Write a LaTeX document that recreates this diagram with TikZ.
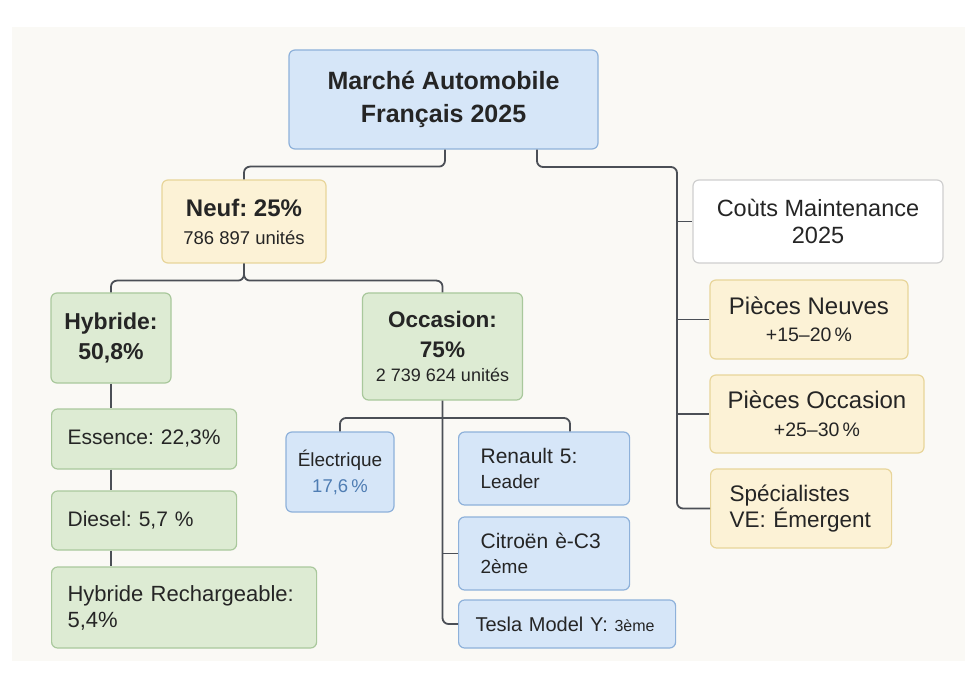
\documentclass[tikz,border=0pt]{standalone}
\usepackage{fontspec}
\setmainfont{Liberation Sans}
\frenchspacing
\usetikzlibrary{positioning}
\definecolor{panelbg}{HTML}{FAF9F5}
\definecolor{blueFill}{HTML}{D6E6F8}
\definecolor{blueLine}{HTML}{8EB1DA}
\definecolor{yellowFill}{HTML}{FCF2D6}
\definecolor{yellowLine}{HTML}{E8D59A}
\definecolor{greenFill}{HTML}{DDEBD3}
\definecolor{greenLine}{HTML}{A9C89C}
\definecolor{greyLine}{HTML}{CFCFCF}
\definecolor{lineGray}{HTML}{4B4F56}
\definecolor{textdark}{HTML}{252525}
\definecolor{elecBlue}{HTML}{4F7DB3}
\newcommand\fsz[2]{\fontsize{#1}{#2}\selectfont}

\tikzset{
  box/.style={draw, rounded corners=6pt, line width=1.2pt, text=textdark, inner sep=0pt},
  bluebox/.style={box, fill=blueFill, draw=blueLine},
  yellowbox/.style={box, fill=yellowFill, draw=yellowLine},
  greenbox/.style={box, fill=greenFill, draw=greenLine},
  whitebox/.style={box, fill=white, draw=greyLine},
  leftbox/.style={align=left, anchor=west, inner xsep=#1},
  conn/.style={draw=lineGray, line width=1.8pt, rounded corners=6pt},
}

\begin{document}
\begin{tikzpicture}[x=1pt, y=-1pt]
  % Page and panel
  \useasboundingbox (0,0) rectangle (975,687);
  \fill[white] (0,0) rectangle (975,687);
  \fill[panelbg] (12,27) rectangle (965,661);

  % Root
  \node[bluebox, minimum width=309pt, minimum height=99pt, align=center,
        font=\bfseries\fsz{25}{33}] (title) at (443.5,99.5)
      {Marché Automobile\\Français 2025};

  % Neuf / Occasion branch
  \node[yellowbox, minimum width=164pt, minimum height=83pt, align=center,
        font=\fsz{24}{28}] (neuf) at (244,221.5)
      {\textbf{Neuf: 25\%}\\{\fsz{18.5}{22}786 897 unités}};

  \node[greenbox, minimum width=120pt, minimum height=90pt, align=center,
        font=\bfseries\fsz{23}{30}] (hyb) at (111,338)
      {Hybride:\\50,8\%};

  \node[greenbox, minimum width=160pt, minimum height=107pt, align=center,
        font=\fsz{22.5}{30}] (occ) at (442.5,346.5)
      {\textbf{Occasion:}\\\textbf{75\%}\\[-5.5pt]{\fsz{18}{22}2 739 624 unités}};

  % Hybride details
  \node[greenbox, leftbox=16pt, text width=153pt, minimum height=60pt,
        font=\fsz{21}{26}] (ess) at (51,439)
      {Essence: 22,3\%};
  \node[greenbox, leftbox=16pt, text width=153pt, minimum height=59pt,
        font=\fsz{21}{26}] (dies) at (51,520.5)
      {Diesel: 5,7 \%};
  \node[greenbox, leftbox=16pt, text width=233pt, minimum height=81pt,
        font=\fsz{22}{26}] (hr) at (51,607.5)
      {Hybride Rechargeable:\\5,4\%};

  % Occasion details
  \node[bluebox, minimum width=108pt, minimum height=80pt, align=center,
        font=\fsz{19}{26}] (elec) at (340,472)
      {Électrique\\{\fsz{18.5}{22}\color{elecBlue}17,6\,\%}};
  \node[bluebox, leftbox=22pt, text width=127pt, minimum height=73pt,
        font=\fsz{21}{25.5}] (ren) at (458,468.5)
      {Renault 5:\\{\fsz{19}{22}Leader}};
  \node[bluebox, leftbox=22pt, text width=127pt, minimum height=73pt,
        font=\fsz{21}{25.5}] (cit) at (458,553.5)
      {Citroën è-C3\\{\fsz{19}{22}2ème}};
  \node[bluebox, leftbox=17pt, text width=183pt, minimum height=48pt,
        font=\fsz{20}{25}] (tes) at (458,624)
      {Tesla Model Y: {\fsz{16}{20}3ème}};

  % Maintenance costs
  \node[whitebox, minimum width=250pt, minimum height=83pt, align=center,
        font=\fsz{23.5}{27}] (couts) at (818,221.5)
      {Coùts Maintenance\\2025};
  \node[yellowbox, minimum width=198pt, minimum height=79pt, align=center,
        font=\fsz{24}{27.5}] (pn) at (809,319.5)
      {Pièces Neuves\\{\fsz{19.5}{22}+15–20\,\%}};
  \node[yellowbox, minimum width=214pt, minimum height=78pt, align=center,
        font=\fsz{24}{27.5}] (po) at (817,414)
      {Pièces Occasion\\{\fsz{19.5}{22}+25–30\,\%}};
  \node[yellowbox, leftbox=19pt, text width=143pt, minimum height=79pt,
        font=\fsz{22.5}{26}] (spec) at (710,508.5)
      {Spécialistes\\VE: Émergent};

  % Connectors
  \coordinate (rbus) at (677,167);
  \coordinate (obar) at (570,418);
  \draw[conn] ([xshift=1.5pt]title.south) -- ++(0,17) -| (neuf.north);
  \draw[conn] ([xshift=93.5pt]title.south) |- (rbus) |- (spec.west);
  \draw[conn] (couts.west -| rbus) -- (couts.west);
  \draw[conn] (pn.west -| rbus) -- (pn.west);
  \draw[conn] (po.west -| rbus) -- (po.west);

  \draw[conn] (neuf.south) -- ++(0,17) -| (hyb.north);
  \draw[conn] (neuf.south) -- ++(0,17) -| (occ.north);

  \draw[conn] (hyb.south) -- (hyb.south |- ess.north);
  \draw[conn] (hyb.south |- ess.south) -- (hyb.south |- dies.north);
  \draw[conn] (hyb.south |- dies.south) -- (hyb.south |- hr.north);

  \draw[conn] (occ.south) |- (tes.west);
  \draw[conn] (elec.north) |- (obar) -- (obar |- ren.north);
  \draw[conn] (cit.west -| occ.south) -- (cit.west);
\end{tikzpicture}
\end{document}
